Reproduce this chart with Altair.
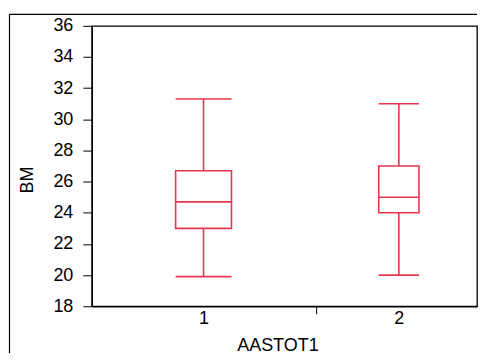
import altair as alt
import pandas as pd

# Data
groups = [1, 2]
whisker_low = [19.9, 20.0]
q1 = [23.0, 24.0]
median = [24.7, 25.0]
q3 = [26.7, 27.0]
whisker_high = [31.3, 31.0]
y_ticks = [18, 20, 22, 24, 26, 28, 30, 32, 34, 36]
x_title = "AASTOT1"
y_title = "BM"

# styling (box half widths in x-units, separator tick position)
BOX_HALF = [0.143, 0.103]
SEP_TICK = 1.579
RED = "#E8364F"
FONT = "Liberation Sans"
FS = 18
W, H = 386, 281

df = pd.DataFrame({
    "g": groups, "lo": whisker_low, "q1": q1, "med": median,
    "q3": q3, "hi": whisker_high, "hw": BOX_HALF,
})

xscale = alt.Scale(domain=[0.428, 2.4], nice=False, zero=False)
yscale = alt.Scale(domain=[18, 36], nice=False, zero=False)

xaxis = alt.Axis(values=groups, format="d", ticks=False, labelPadding=3, title=x_title,
                 titleX=186, titleY=39, titleBaseline="middle", labelFontSize=FS,
                 titleFontSize=FS, titleFontWeight="normal", labelOverlap=False)
yaxis = alt.Axis(values=y_ticks, format="d", tickSize=9, labelPadding=10, title=y_title,
                 titleX=-64, titleY=154, titleBaseline="middle", titleAlign="center",
                 labelFontSize=FS, titleFontSize=FS, titleFontWeight="normal",
                 labelOverlap=False, labelBound=False, labelFlush=False, tickCount=10)

base = alt.Chart(df).transform_calculate(
    xl="datum.g - datum.hw", xr="datum.g + datum.hw"
)

def X(f):
    return alt.X(f, scale=xscale, axis=xaxis)

def Y(f):
    return alt.Y(f, scale=yscale, axis=yaxis)

whisk_lo = base.mark_rule(color=RED, strokeWidth=1.6).encode(
    x=X("g:Q"), y=Y("lo:Q"), y2="q1:Q"
)
whisk_hi = base.mark_rule(color=RED, strokeWidth=1.6).encode(
    x=X("g:Q"), y=Y("q3:Q"), y2="hi:Q"
)
cap_lo = base.mark_rule(color=RED, strokeWidth=1.6).encode(
    x=X("xl:Q"), x2="xr:Q", y=Y("lo:Q")
)
cap_hi = base.mark_rule(color=RED, strokeWidth=1.6).encode(
    x=X("xl:Q"), x2="xr:Q", y=Y("hi:Q")
)
box = base.mark_rect(fill=None, stroke=RED, strokeWidth=1.6).encode(
    x=X("xl:Q"), x2="xr:Q", y=Y("q1:Q"), y2="q3:Q"
)
med = base.mark_rule(color=RED, strokeWidth=1.6).encode(
    x=X("xl:Q"), x2="xr:Q", y=Y("med:Q")
)

one = pd.DataFrame({"s": [SEP_TICK]})
sep = alt.Chart(one).mark_rule(color="black", strokeWidth=1).encode(
    x=X("s:Q"), y=alt.value(H), y2=alt.value(H + 8)
)
frame_top = alt.Chart(one).mark_rule(color="black", strokeWidth=1.2).encode(
    x=alt.value(-82.5), x2=alt.value(W), y=alt.value(-11.5)
)
frame_left = alt.Chart(one).mark_rule(color="black", strokeWidth=1.2).encode(
    x=alt.value(-82.5), y=alt.value(-11.5), y2=alt.value(H + 47)
)

chart = alt.layer(whisk_lo, whisk_hi, cap_lo, cap_hi, box, med, sep, frame_top, frame_left).properties(
    width=W, height=H, padding={"left": 0, "top": 4.5, "right": 0, "bottom": 0}
).configure(font=FONT).configure_view(
    stroke="black", strokeWidth=1.3
).configure_axis(
    grid=False, domainColor="black", tickColor="black", labelColor="black",
    titleColor="black", labelFont=FONT, titleFont=FONT, domainWidth=1.3
)

chart.save("out.html", embed_options={"renderer": "svg", "actions": False})
